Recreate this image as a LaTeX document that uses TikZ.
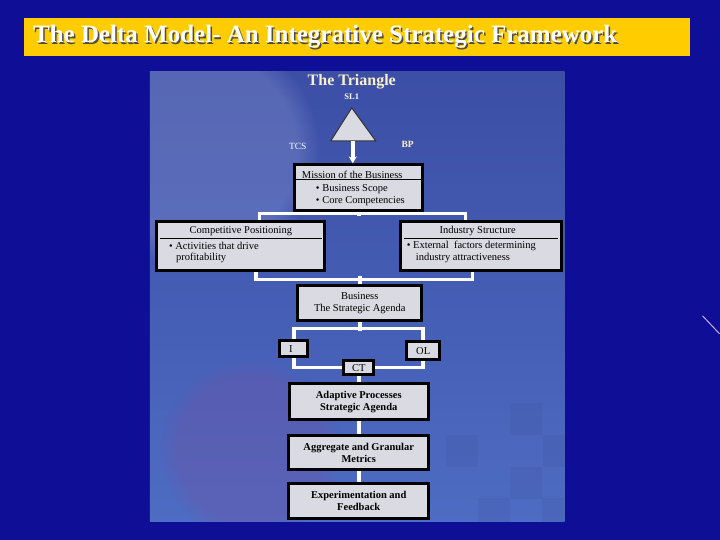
\documentclass[tikz,border=0pt]{standalone}
\usepackage{fontspec}
\setmainfont{Liberation Serif}
\usetikzlibrary{arrows.meta, positioning, fadings}
\definecolor{bgblue}{RGB}{14,14,150}
\definecolor{titleyellow}{RGB}{255,204,0}
\definecolor{boxgrey}{RGB}{218,218,226}
\definecolor{paneltop}{RGB}{60,78,165}
\definecolor{panelbottom}{RGB}{78,108,195}
\definecolor{panelglow}{RGB}{150,160,215}
\definecolor{panelpurple}{RGB}{120,80,160}
\definecolor{cream}{RGB}{250,240,200}
\definecolor{lavender}{RGB}{200,170,240}
\tikzset{
  deltabox/.style={draw=black, line width=3pt, fill=boxgrey, inner sep=0pt, align=center,
    font=\fontsize{10.5}{12}\selectfont},
  boxtext/.style={inner sep=0pt, font=\fontsize{10.5}{12}\selectfont},
  wire/.style={draw=white, line width=3.5pt},
}

\begin{document}
\begin{tikzpicture}[x=1pt,y=-1pt]
    \fill[bgblue] (0,0) rectangle (720,540); %background
    \draw[lavender, line width=1pt] (703,316) -- (720,334);
    % title bar
    \fill[titleyellow] (24,18) rectangle (690,56);
    \node[anchor=west, inner sep=0pt, text=black!70, font=\fontsize{25}{27}\selectfont\bfseries] at (34.5,38.5)
        {The Delta Model- An Integrative Strategic Framework};
    \node[anchor=west, inner sep=0pt, text=white, font=\fontsize{25}{27}\selectfont\bfseries] (title) at (33,37)
        {The Delta Model- An Integrative Strategic Framework};
    % picture panel
    \begin{scope}
    \clip (150,72) rectangle (565,522);
    \shade[top color=paneltop, bottom color=panelbottom] (150,72) rectangle (565,522);
    \fill[panelglow, opacity=0.3, path fading=circle with fuzzy edge 20 percent] (200,150) circle (120pt);
    \fill[panelpurple, opacity=0.3, path fading=circle with fuzzy edge 20 percent] (250,450) circle (90pt);
    \foreach \x/\y in {510/403, 446/435, 543/435, 510/467, 478/498, 542/498}
        \fill[black, opacity=0.04] (\x,\y) rectangle ++(32,32);
    \end{scope}

    % the triangle
    \node[text=cream, font=\fontsize{16}{18}\selectfont\bfseries] (tri title) at (352,82) {The Triangle};
    \node[text=white, font=\fontsize{8.5}{9}\selectfont\bfseries] (sl1) at (352,97) {SL1};
    \coordinate (apex) at (352,108);
    \coordinate (tri base) at (353,141);
    \filldraw[fill=boxgrey, draw=black!80, line width=1pt] (apex) -- (331,141) -- (376,141) -- cycle;
    \node[text=white, font=\fontsize{9.5}{10}\selectfont] (tcs) at (298,147) {TCS};
    \node[text=cream, font=\fontsize{9.5}{10}\selectfont\bfseries] (bp) at (408,145) {BP};

    % boxes
    \node[deltabox, minimum width=128pt, minimum height=46pt] (mission) at (359,188) {};
    \node[deltabox, minimum width=168pt, minimum height=49pt] (comp) at (241,246.5) {};
    \node[deltabox, minimum width=161pt, minimum height=49pt] (ind) at (481.5,246.5) {};
    \node[deltabox, minimum width=124pt, minimum height=35pt] (business) at (360,303.5)
        {Business\\The Strategic Agenda};
    \node[deltabox, minimum width=28pt, minimum height=16pt] (ibox) at (294,349) {};
    \node[deltabox, minimum width=33pt, minimum height=18pt] (olbox) at (423.5,351) {OL};
    \node[deltabox, minimum width=30pt, minimum height=14pt] (ct) at (359,368) {CT};
    \node[deltabox, minimum width=139pt, minimum height=36pt, font=\fontsize{10.5}{12}\selectfont\bfseries]
        (adapt) at (359,402) {Adaptive Processes\\Strategic Agenda};
    \node[deltabox, minimum width=140pt, minimum height=34pt, font=\fontsize{10.5}{12}\selectfont\bfseries]
        (agg) at (359,453) {Aggregate and Granular\\Metrics};
    \node[deltabox, minimum width=140pt, minimum height=35pt, font=\fontsize{10.5}{12}\selectfont\bfseries]
        (exper) at (359,501.5) {Experimentation and\\Feedback};

    % texts inside the boxes
    \node[boxtext, anchor=west] (mission head) at (302,175) {Mission of the Business};
    \draw[black, line width=1pt] (mission.west |- 0,180) -- (mission.east |- 0,180);
    \node[boxtext, anchor=west] (scope) at (316,189) {• Business Scope};
    \node[boxtext, anchor=west] (core) at (316,201) {• Core Competencies};
    \node[boxtext] (comp head) at (241,231) {Competitive Positioning};
    \draw[black, line width=1pt] (160,239) -- (322,239);
    \node[boxtext, anchor=west] (act) at (169,246) {• Activities that drive};
    \node[boxtext, anchor=west] (prof) at (176,258) {profitability};
    \node[boxtext] (ind head) at (478,231) {Industry Structure};
    \draw[black, line width=1pt] (404,239) -- (558,239);
    \node[boxtext, anchor=west] (ext) at (407,246) {• External\ \ factors determining};
    \node[boxtext, anchor=west] (attr) at (416,258) {industry attractiveness};
    \node[boxtext, anchor=west] (itext) at (289,349) {I};

    % connectors
    \draw[wire, -{Stealth[length=7pt,width=8pt]}] (tri base) -- (tri base |- mission.north);
    \draw[wire] (mission.south) -- ++(0,4);
    \draw[wire] ([xshift=-67pt]comp.north east) -- ++(0,-7) -| ([xshift=-15.5pt]ind.north);
    \draw[wire] ([xshift=15pt]comp.south) -- ++(0,7) -| ([xshift=-8.5pt]ind.south);
    \draw[wire] (business.north) -- ++(0,-8);
    \draw[wire] (business.south) -- ++(0,9);
    \draw[wire] (ibox.north) -- ++(0,-11) -| (olbox.north);
    \draw[wire] (ibox.south) |- (ct.west);
    \draw[wire] (olbox.south) |- (ct.east);
    \draw[wire] (ct.south) -- (adapt.north);
    \draw[wire] (adapt.south) -- (agg.north);
    \draw[wire] (agg.south) -- (exper.north);
\end{tikzpicture}
\end{document}
